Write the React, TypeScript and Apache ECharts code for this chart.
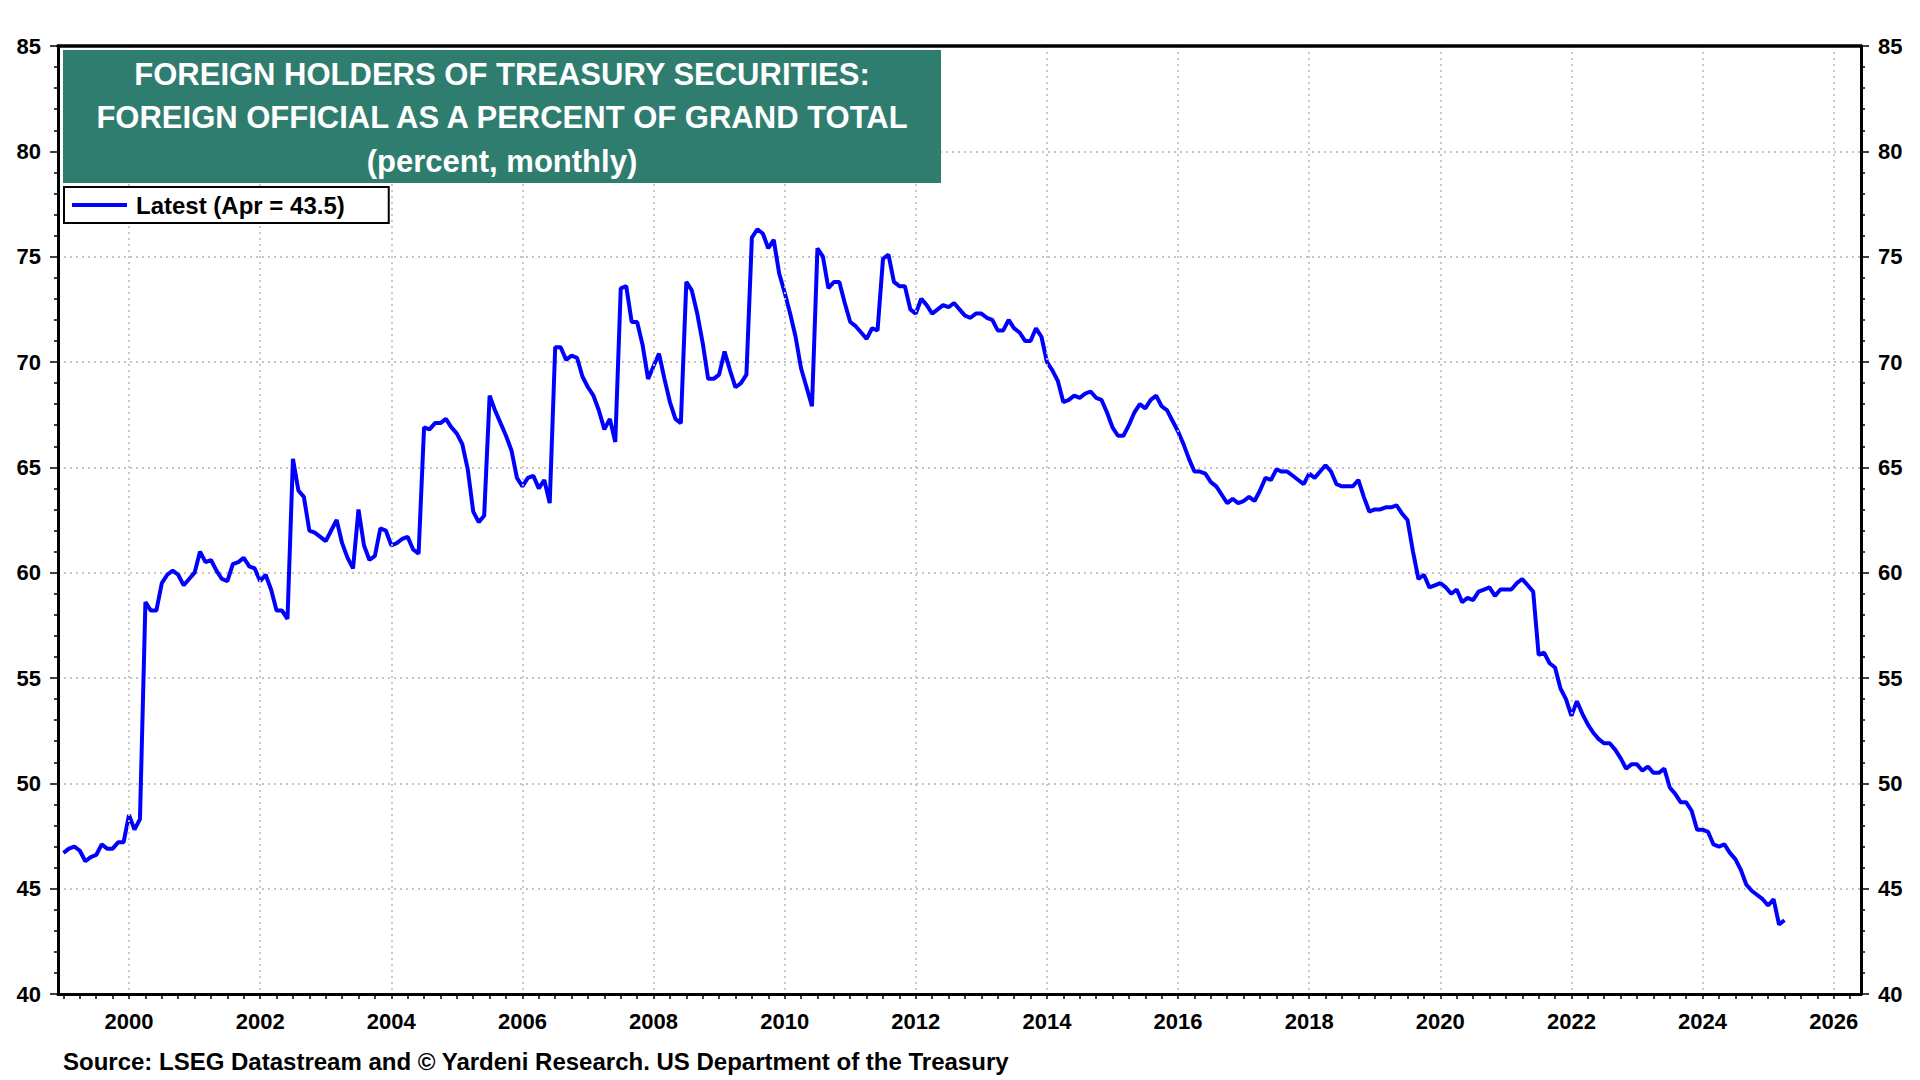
import React, { useEffect, useRef } from "react";
import * as echarts from "echarts";

const FONT = 'Arial, "Liberation Sans", Helvetica, sans-serif';

// Monthly values (percent), Jan..Dec of each year
const y1999 = [46.7, 46.9, 47.0, 46.8, 46.3, 46.5, 46.6, 47.1, 46.9, 46.9, 47.2, 47.2];
const y2000 = [48.5, 47.8, 48.3, 58.6, 58.2, 58.2, 59.5, 59.9, 60.1, 59.9, 59.4, 59.7];
const y2001 = [60.0, 61.0, 60.5, 60.6, 60.1, 59.7, 59.6, 60.4, 60.5, 60.7, 60.3, 60.2];
const y2002 = [59.6, 59.9, 59.2, 58.2, 58.2, 57.8, 65.4, 63.9, 63.6, 62.0, 61.9, 61.7];
const y2003 = [61.5, 62.0, 62.5, 61.4, 60.7, 60.2, 63.0, 61.3, 60.6, 60.8, 62.1, 62.0];
const y2004 = [61.3, 61.4, 61.6, 61.7, 61.1, 60.9, 66.9, 66.8, 67.1, 67.1, 67.3, 66.9];
const y2005 = [66.6, 66.1, 64.9, 62.9, 62.4, 62.7, 68.4, 67.7, 67.1, 66.5, 65.8, 64.5];
const y2006 = [64.1, 64.5, 64.6, 64.0, 64.4, 63.3, 70.7, 70.7, 70.1, 70.3, 70.2, 69.3];
const y2007 = [68.8, 68.4, 67.7, 66.8, 67.3, 66.2, 73.5, 73.6, 71.9, 71.9, 70.8, 69.2];
const y2008 = [69.8, 70.4, 69.2, 68.1, 67.3, 67.1, 73.8, 73.4, 72.3, 70.9, 69.2, 69.2];
const y2009 = [69.4, 70.5, 69.6, 68.8, 69.0, 69.4, 75.9, 76.3, 76.1, 75.4, 75.8, 74.2];
const y2010 = [73.3, 72.3, 71.2, 69.7, 68.8, 67.9, 75.4, 75.0, 73.5, 73.8, 73.8, 72.8];
const y2011 = [71.9, 71.7, 71.4, 71.1, 71.6, 71.5, 74.9, 75.1, 73.8, 73.6, 73.6, 72.5];
const y2012 = [72.3, 73.0, 72.7, 72.3, 72.5, 72.7, 72.6, 72.8, 72.5, 72.2, 72.1, 72.3];
const y2013 = [72.3, 72.1, 72.0, 71.5, 71.5, 72.0, 71.6, 71.4, 71.0, 71.0, 71.6, 71.2];
const y2014 = [70.0, 69.6, 69.1, 68.1, 68.2, 68.4, 68.3, 68.5, 68.6, 68.3, 68.2, 67.6];
const y2015 = [66.9, 66.5, 66.5, 67.0, 67.6, 68.0, 67.8, 68.2, 68.4, 67.9, 67.7, 67.2];
const y2016 = [66.7, 66.1, 65.4, 64.8, 64.8, 64.7, 64.3, 64.1, 63.7, 63.3, 63.5, 63.3];
const y2017 = [63.4, 63.6, 63.4, 63.9, 64.5, 64.4, 64.9, 64.8, 64.8, 64.6, 64.4, 64.2];
const y2018 = [64.7, 64.5, 64.8, 65.1, 64.8, 64.2, 64.1, 64.1, 64.1, 64.4, 63.6, 62.9];
const y2019 = [63.0, 63.0, 63.1, 63.1, 63.2, 62.8, 62.5, 61.0, 59.7, 59.9, 59.3, 59.4];
const y2020 = [59.5, 59.3, 59.0, 59.2, 58.6, 58.8, 58.7, 59.1, 59.2, 59.3, 58.9, 59.2];
const y2021 = [59.2, 59.2, 59.5, 59.7, 59.4, 59.1, 56.1, 56.2, 55.7, 55.5, 54.5, 54.0];
const y2022 = [53.2, 53.9, 53.3, 52.8, 52.4, 52.1, 51.9, 51.9, 51.6, 51.2, 50.7, 50.9];
const y2023 = [50.9, 50.6, 50.8, 50.5, 50.5, 50.7, 49.8, 49.5, 49.1, 49.1, 48.7, 47.8];
const y2024 = [47.8, 47.7, 47.1, 47.0, 47.1, 46.7, 46.4, 45.9, 45.2, 44.9, 44.7, 44.5];
const y2025 = [44.2, 44.5, 43.3, 43.5];

const SERIES_NAME = "Latest (Apr = 43.5)";
const TITLE_LINES = [
  "FOREIGN HOLDERS OF TREASURY SECURITIES:",
  "FOREIGN OFFICIAL AS A PERCENT OF GRAND TOTAL",
  "(percent, monthly)",
];
const SOURCE = "Source: LSEG Datastream and \u00A9 Yardeni Research. US Department of the Treasury";

// Month categories from Dec 1998 to Jun 2026
const categories: string[] = [];
for (let y = 1998; y <= 2026; y++) {
  for (let m = 1; m <= 12; m++) {
    if (y === 1998 && m < 12) continue;
    if (y === 2026 && m > 6) break;
    categories.push(`${y}-${String(m).padStart(2, "0")}`);
  }
}

const seriesValues: (number | null)[] = [
  null,
  ...y1999, ...y2000, ...y2001, ...y2002, ...y2003, ...y2004, ...y2005,
  ...y2006, ...y2007, ...y2008, ...y2009, ...y2010, ...y2011, ...y2012,
  ...y2013, ...y2014, ...y2015, ...y2016, ...y2017, ...y2018, ...y2019,
  ...y2020, ...y2021, ...y2022, ...y2023, ...y2024, ...y2025,
];

const isQuarter = (v: string) => ["01", "04", "07", "10"].includes(v.slice(5));
const isEvenYearStart = (v: string) => v.slice(5) === "01" && parseInt(v.slice(0, 4), 10) % 2 === 0;

const GRID_LINE = { color: "#c4c4c4", width: 1.8, type: [2, 4] as number[] };

export default function App() {
  const ref = useRef<HTMLDivElement>(null);

  useEffect(() => {
    document.body.style.margin = "0";
    if (!ref.current) return;
    const chart = echarts.init(ref.current, undefined, { renderer: "svg" });

    const yAxisBase = {
      type: "value" as const,
      min: 40,
      max: 85,
      interval: 5,
      axisLine: { show: true, lineStyle: { color: "#000", width: 3 } },
      axisTick: { show: true, length: 8, lineStyle: { color: "#000", width: 1.5 } },
      minorTick: { show: true, splitNumber: 5, length: 4, lineStyle: { color: "#000", width: 1.5 } },
      axisLabel: { color: "#000", fontFamily: FONT, fontWeight: "bold" as const, fontSize: 22, margin: 17 },
    };

    chart.setOption({
      animation: false,
      backgroundColor: "#ffffff",
      grid: {
        left: 58,
        right: 59,
        top: 46,
        bottom: 86,
        show: false,
      },
      legend: {
        show: true,
        left: 64,
        top: 187,
        backgroundColor: "#fff",
        borderColor: "#000",
        borderWidth: 2,
        padding: [6, 44, 6, 8],
        itemWidth: 55,
        itemHeight: 4,
        icon: "rect",
        textStyle: { color: "#000", fontFamily: FONT, fontWeight: "bold", fontSize: 24, padding: [0, 0, 0, 4] },
        data: [SERIES_NAME],
        z: 110,
      },
      xAxis: [
        {
          type: "category",
          data: categories,
          boundaryGap: false,
          position: "bottom",
          axisLine: { show: true, lineStyle: { color: "#000", width: 3 } },
          axisTick: {
            show: true,
            length: 5,
            interval: (_i: number, v: string) => isQuarter(v),
            lineStyle: { color: "#000", width: 1.5 },
          },
          axisLabel: {
            show: true,
            interval: (_i: number, v: string) => isEvenYearStart(v),
            formatter: (v: string) => v.slice(0, 4),
            color: "#000",
            fontFamily: FONT,
            fontWeight: "bold",
            fontSize: 22,
            margin: 16,
          },
          splitLine: {
            show: true,
            interval: (_i: number, v: string) => isEvenYearStart(v),
            lineStyle: GRID_LINE,
          },
          z: 10,
        },
        {
          type: "category",
          data: categories,
          boundaryGap: false,
          position: "top",
          axisLine: { show: true, lineStyle: { color: "#000", width: 3.5 } },
          axisTick: { show: false },
          axisLabel: { show: false },
          splitLine: { show: false },
          z: 10,
        },
      ],
      yAxis: [
        { ...yAxisBase, position: "left", splitLine: { show: true, lineStyle: GRID_LINE } },
        { ...yAxisBase, position: "right", splitLine: { show: false } },
      ],
      series: [
        {
          name: SERIES_NAME,
          type: "line",
          data: seriesValues,
          xAxisIndex: 0,
          yAxisIndex: 0,
          symbol: "none",
          showSymbol: false,
          connectNulls: false,
          color: "#0000ff",
          lineStyle: { color: "#0000ff", width: 4 },
          z: 5,
        },
      ],
      graphic: [
        {
          type: "rect",
          shape: { x: 63, y: 50, width: 878, height: 133 },
          style: { fill: "#2f7d6f" },
          z: 100,
        },
        ...TITLE_LINES.map((t, i) => ({
          type: "text",
          x: 502,
          y: 74 + i * 43.5,
          z: 101,
          style: {
            text: t,
            fill: "#ffffff",
            font: `bold 31px ${FONT}`,
            textAlign: "center",
            textVerticalAlign: "middle",
            align: "center",
            verticalAlign: "middle",
          },
        })),
        {
          type: "text",
          x: 63,
          y: 1061,
          z: 101,
          style: {
            text: SOURCE,
            fill: "#000",
            font: `bold 24px ${FONT}`,
            textAlign: "left",
            textVerticalAlign: "middle",
            align: "left",
            verticalAlign: "middle",
          },
        },
      ],
    });

    return () => chart.dispose();
  }, []);

  return <div ref={ref} style={{ width: 1920, height: 1080 }} />;
}
